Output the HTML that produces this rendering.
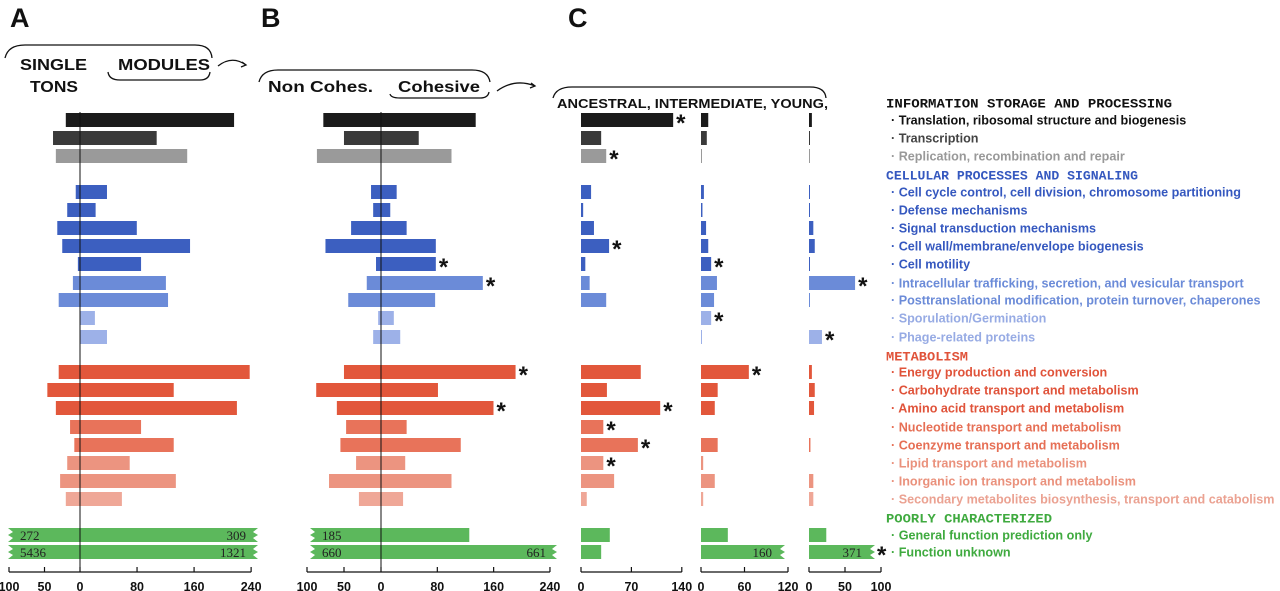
<!DOCTYPE html>
<html><head><meta charset="utf-8"><style>
html,body{margin:0;padding:0;background:#fff;}
svg{display:block;font-family:"Liberation Sans",sans-serif;}
</style></head><body>
<svg id="fig" width="1280" height="591" viewBox="0 0 1280 591" xmlns="http://www.w3.org/2000/svg">
<g font-weight="bold" font-size="27" fill="#111">
<text x="10" y="27">A</text>
<text x="261" y="27">B</text>
<text x="568" y="27">C</text>
</g>
<g fill="none" stroke="#111" stroke-width="1.3">
<path d="M5,58 Q8,45 25,45 L195,45 Q211,45 212,58"/>
<path d="M108,72 Q109,80 120,80 L200,80 Q209,80 210,72"/>
<path d="M218,66 Q232,55 246,65"/>
<path d="M259,82 Q262,70 278,70 L472,70 Q488,70 490,82"/>
<path d="M390,94 Q391,98 400,98 L480,98 Q488,98 489,92"/>
<path d="M497,91 Q515,78 535,86"/>
<path d="M553,98 Q556,87 572,87 L810,87 Q825,87 826,98"/>
<path d="M242,62 L246,65 L241,67 M531,83 L535,86 L530,88"/>
</g>
<g font-weight="bold" fill="#111">
<text x="20" y="70" font-size="16" textLength="67" lengthAdjust="spacingAndGlyphs">SINGLE</text>
<text x="30" y="92" font-size="16" textLength="48" lengthAdjust="spacingAndGlyphs">TONS</text>
<text x="118" y="70" font-size="16" textLength="92" lengthAdjust="spacingAndGlyphs">MODULES</text>
<text x="268" y="92" font-size="16" textLength="105" lengthAdjust="spacingAndGlyphs">Non Cohes.</text>
<text x="398" y="92" font-size="16" textLength="82" lengthAdjust="spacingAndGlyphs">Cohesive</text>
<text x="557" y="108" font-size="13" textLength="271" lengthAdjust="spacingAndGlyphs">ANCESTRAL,  INTERMEDIATE, YOUNG,</text>
</g>
<g id="bars"></g>
<g id="axes"></g>
<g id="labels"></g>
</svg>
<script>
// categories
const categories = ["Translation, ribosomal structure and biogenesis","Transcription","Replication, recombination and repair","Cell cycle control, cell division, chromosome partitioning","Defense mechanisms","Signal transduction mechanisms","Cell wall/membrane/envelope biogenesis","Cell motility","Intracellular trafficking, secretion, and vesicular transport","Posttranslational modification, protein turnover, chaperones","Sporulation/Germination","Phage-related proteins","Energy production and conversion","Carbohydrate transport and metabolism","Amino acid transport and metabolism","Nucleotide transport and metabolism","Coenzyme transport and metabolism","Lipid transport and metabolism","Inorganic ion transport and metabolism","Secondary metabolites biosynthesis, transport and catabolism","General function prediction only","Function unknown"];
const headers = ["INFORMATION STORAGE AND PROCESSING","CELLULAR PROCESSES AND SIGNALING","METABOLISM","POORLY CHARACTERIZED"];
// Panel A: singletons (left) and modules (right)
const singletons = [20,38,34,6,18,32,25,3,10,30,0,0,30,46,34,14,8,18,28,20,272,5436];
const modules = [217,108,151,38,22,80,155,86,121,124,21,38,239,132,221,86,132,70,135,59,309,1321];
// Panel B: non-cohesive (left) and cohesive (right)
const nonCohesive = [81,52,90,14,11,42,78,7,20,46,4,11,52,91,62,49,57,35,73,31,185,660];
const cohesive = [133,53,99,22,13,36,77,77,143,76,18,27,189,80,158,36,112,34,99,31,124,661];
const cohesiveStar = [0,0,0,0,0,0,0,1,1,0,0,0,1,0,1,0,0,0,0,0,0,0];
// Panel C: ancestral, intermediate, young
const ancestral = [128,28,35,14,3,18,39,6,12,35,0,0,83,36,110,31,79,31,46,8,40,28];
const ancestralStar = [1,0,1,0,0,0,1,0,0,0,0,0,0,0,1,1,1,1,0,0,0,0];
const intermediate = [10,8,1,4,2,7,10,14,22,18,14,1,66,23,19,0,23,3,19,3,37,160];
const intermediateStar = [0,0,0,0,0,0,0,1,0,0,1,0,1,0,0,0,0,0,0,0,0,0];
const young = [4,1,1,1,1,6,8,1,64,1,0,18,4,8,7,0,2,0,6,6,24,371];
const youngStar = [0,0,0,0,0,0,0,0,1,0,0,1,0,0,0,0,0,0,0,0,0,1];
// ticks
const ticksA = [-100,-50,0,80,160,240];
const ticksC1 = [0,70,140];
const ticksC2 = [0,60,120];
const ticksC3 = [0,50,100];

const NS="http://www.w3.org/2000/svg";
const rowY=[120,138,156,192,210,228,246,264,283,300,318,337,372,390,408,427,445,463,481,499,535,552];
const headerY=[103,175,356,518];
const headerLen=[286,252,82,166];
const colors=["#1b1b1b","#3a3a3a","#9a9a9a","#3c5fc0","#3c5fc0","#3c5fc0","#3c5fc0","#3c5fc0","#6b8bd8","#6b8bd8","#9db1e8","#9db1e8","#e2573b","#e2573b","#e2573b","#e8735a","#e8735a","#ec9480","#ec9480","#efa797","#5cb85c","#5cb85c"];
const textColors=["#111","#444","#999","#3558bf","#3558bf","#3558bf","#3558bf","#3558bf","#6b8bd8","#6b8bd8","#97abe4","#97abe4","#e0533a","#e0533a","#e0533a","#e66f55","#e66f55","#ea917c","#ea917c","#eba292","#3faa3f","#3faa3f"];
const headerColors=["#111","#3558bf","#e0533a","#3faa3f"];
const H=14;
function mk(tag,attrs,parent){const e=document.createElementNS(NS,tag);for(const k in attrs)e.setAttribute(k,attrs[k]);parent.appendChild(e);return e;}
const gB=document.getElementById('bars'),gA=document.getElementById('axes'),gL=document.getElementById('labels');
function scale(zero,k){return v=>zero+v*k;}
const xA=scale(80,0.71), xB=scale(381,0.712), xC1=scale(581,0.72), xC2=scale(701,0.725), xC3=scale(809,0.72);

function bar(x0,x1,y,color,name){
  if(Math.abs(x1-x0)<0.5) return;
  const r=mk('rect',{x:Math.min(x0,x1),y:y-H/2,width:Math.max(1,Math.abs(x1-x0)),height:H,fill:color},gB);
  
  
}
function star(x,y,name){
  const t=mk('text',{x:x,y:y+11,'font-size':24,'font-weight':'bold',fill:'#111'},gB);
  t.textContent='*';
  
  
}
function broken(x0,x1,y,leftZ,rightZ,name){
  const t=y-H/2,b=y+H/2,z=5;
  let d='M'+x0+','+t+' L'+x1+','+t;
  if(rightZ) d+=' L'+(x1-z)+','+(y-3)+' L'+x1+','+y+' L'+(x1-z)+','+(y+3)+' L'+x1+','+b;
  else d+=' L'+x1+','+b;
  d+=' L'+x0+','+b;
  if(leftZ) d+=' L'+(x0+z)+','+(y+3)+' L'+x0+','+y+' L'+(x0+z)+','+(y-3);
  d+=' Z';
  const p=mk('path',{d:d,fill:'#5cb85c'},gB);
  
  
}
function numLabel(x,y,txt,anchor,name){
  const t=mk('text',{x:x,y:y+5,'font-size':13,'font-family':'"Liberation Serif",serif','text-anchor':anchor,fill:'#222'},gB);
  t.textContent=txt;
  
  
}

for(let i=0;i<categories.length;i++){
  const y=rowY[i],c=colors[i];
  if(i<20){
    bar(xA(-singletons[i]),xA(0),y,c,'bar-a-singletons-'+i);
    bar(xA(0),xA(modules[i]),y,c,'bar-a-modules-'+i);
    bar(xB(-nonCohesive[i]),xB(0),y,c,'bar-b-noncohesive-'+i);
    bar(xB(0),xB(cohesive[i]),y,c,'bar-b-cohesive-'+i);
    if(cohesiveStar[i]) star(xB(cohesive[i])+3,y,'star-b-'+i);
  } else {
    broken(8,258,y,true,true,'bar-a-broken-'+i);
    numLabel(20,y,String(singletons[i]),'start','value-a-singletons-'+i);
    numLabel(246,y,String(modules[i]),'end','value-a-modules-'+i);
    if(i===20){
      broken(310,xB(cohesive[i]),y,true,false,'bar-b-broken-'+i);
    } else {
      broken(310,557,y,true,true,'bar-b-broken-'+i);
      numLabel(546,y,String(cohesive[i]),'end','value-b-cohesive-'+i);
    }
    numLabel(322,y,String(nonCohesive[i]),'start','value-b-noncohesive-'+i);
  }
  bar(xC1(0),xC1(ancestral[i]),y,c,'bar-c-ancestral-'+i);
  if(ancestralStar[i]) star(xC1(ancestral[i])+3,y,'star-c-ancestral-'+i);
  if(i===21){
    broken(xC2(0),785,y,false,true,'bar-c-intermediate-broken');
    numLabel(772,y,String(intermediate[i]),'end','value-c-intermediate');
    broken(xC3(0),875,y,false,true,'bar-c-young-broken');
    numLabel(862,y,String(young[i]),'end','value-c-young');
    if(youngStar[i]) star(877,y,'star-c-young-'+i);
  } else {
    bar(xC2(0),xC2(intermediate[i]),y,c,'bar-c-intermediate-'+i);
    if(intermediateStar[i]) star(xC2(intermediate[i])+3,y,'star-c-intermediate-'+i);
    bar(xC3(0),xC3(young[i]),y,c,'bar-c-young-'+i);
    if(youngStar[i]) star(xC3(young[i])+3,y,'star-c-young-'+i);
  }
  const t=mk('text',{x:891,y:y+4.5,'font-size':12.6,'font-weight':'bold',fill:textColors[i]},gL);
  t.textContent='\u00b7 '+categories[i];
  
  
}
for(let h=0;h<headers.length;h++){
  const t=mk('text',{x:886,y:headerY[h]+4.5,'font-size':12.5,'font-weight':'bold','font-family':'"Liberation Mono",monospace',fill:headerColors[h],textLength:headerLen[h],lengthAdjust:'spacingAndGlyphs'},gL);
  t.textContent=headers[h];
  
  
}
// zero lines
for(const [x,n] of [[80,'zero-line-a'],[381,'zero-line-b']]){
  const l=mk('line',{x1:x,y1:112,x2:x,y2:572,stroke:'#111','stroke-width':1},gA);
  
  
}
function axis(sc,ticks,name){
  const xs=ticks.map(v=>sc(v));
  const l=mk('line',{x1:Math.min(...xs),y1:572,x2:Math.max(...xs),y2:572,stroke:'#111','stroke-width':1.2},gA);
  
  
  ticks.forEach(v=>{
    const tk=mk('line',{x1:sc(v),y1:567,x2:sc(v),y2:572,stroke:'#111','stroke-width':1.2},gA);
    
    
    const t=mk('text',{x:sc(v),y:591,'font-size':12.5,'font-weight':'bold','text-anchor':'middle',fill:'#111'},gA);
    t.textContent=String(Math.abs(v));
    
    
  });
}
axis(v=>v<0?80+v*0.71:80+v*0.713,ticksA,'x-axis-a');
axis(v=>v<0?381+v*0.74:381+v*0.704,ticksA,'x-axis-b');
axis(xC1,ticksC1,'x-axis-c-ancestral');
axis(xC2,ticksC2,'x-axis-c-intermediate');
axis(xC3,ticksC3,'x-axis-c-young');
</script>
</body></html>
